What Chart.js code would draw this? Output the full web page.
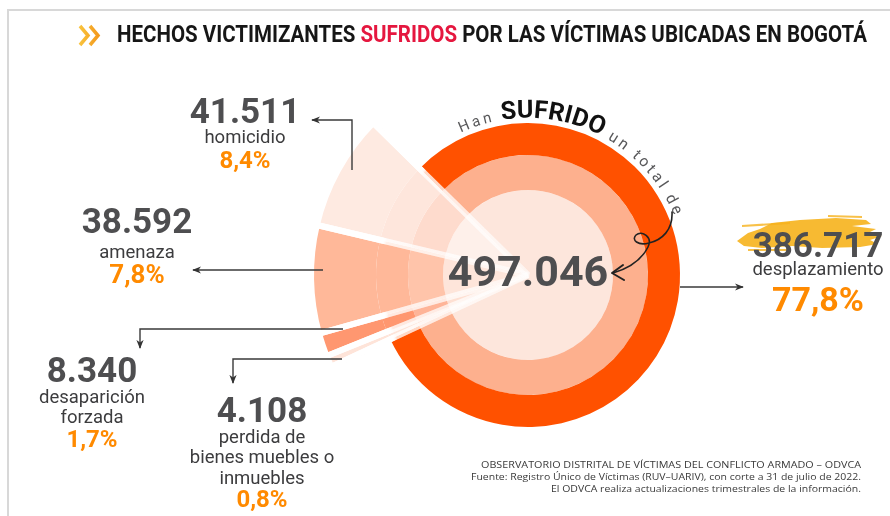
<!DOCTYPE html>
<html lang="es">
<head>
<meta charset="utf-8">
<title>Hechos victimizantes en Bogotá</title>
<script src="https://cdn.jsdelivr.net/npm/chart.js@4.4.0/dist/chart.umd.min.js"></script>
<style>
  html, body { margin: 0; padding: 0; background: #fff; }
  #wrap { position: relative; width: 890px; height: 516px; overflow: hidden; }
  #wrap canvas, #wrap svg { position: absolute; left: 0; top: 0; }
  .frame { position: absolute; left: 7px; top: 9px; right: -10px; bottom: -10px;
           border-left: 2px solid #d8d8d8; border-top: 2px solid #d8d8d8; }
</style>
</head>
<body>
<div id="wrap">
  <div class="frame"></div>
  <canvas id="rings" width="890" height="516"></canvas>
  <canvas id="gaps" width="890" height="516"></canvas>
  <svg id="notes" width="890" height="516" xmlns="http://www.w3.org/2000/svg"></svg>
</div>
<script>
// slices in the order they run clockwise round the circle
const categories = ["desplazamiento", "perdida de\nbienes muebles o\ninmuebles", "desaparición\nforzada", "amenaza", "homicidio"];
const victims = [386717, 4108, 8340, 38592, 41511];
const shares = ["77,8%", "0,8%", "1,7%", "7,8%", "8,4%"];
const totalVictims = 497046;

const titleParts = ["HECHOS VICTIMIZANTES ", "SUFRIDOS", " POR LAS VÍCTIMAS UBICADAS EN BOGOTÁ"];
const sourceLines = [
    "OBSERVATORIO DISTRITAL DE VÍCTIMAS DEL CONFLICTO ARMADO – ODVCA",
    "Fuente: Registro Único de Víctimas (RUV–UARIV), con corte a 31 de julio de 2022.",
    "El ODVCA realiza actualizaciones trimestrales de la información."
];

// ring colours, outermost ring first
const ringColors = [
    ["rgba(0,0,0,0)", "#FEE4D9", "#FF9770", "#FFB899", "#FEEAE1"],
    ["#FF5100", "#FEE4D9", "#FF9770", "#FFB899", "#FEE6DC"],
    ["#FDB08E", "#FEDCCE", "#FEB498", "#FFC4AA", "#FEDBCD"],
    ["#FDE6DC", "#FEEFE9", "#FEE0D3", "#FEE5DA", "#FEF0EA"]
];
const ringWeights = [63, 32, 35, 85];

const commonOptions = {
    responsive: false,
    animation: false,
    events: [],
    rotation: 314.5,
    layout: { padding: { left: 166, top: 34 } },
    plugins: { legend: { display: false }, tooltip: { enabled: false } }
};

new Chart(document.getElementById("rings"), {
    type: "pie",
    data: {
        labels: categories,
        datasets: ringColors.map((colors, i) => ({
            data: victims,
            backgroundColor: colors,
            borderWidth: 0,
            weight: ringWeights[i]
        }))
    },
    options: { ...commonOptions, radius: 215 }
});

// white cuts between the slices, faint towards the middle
function gapColor(c) {
    const area = c.chart.chartArea;
    if (!area) return "#fff";
    const cx = (area.left + area.right) / 2;
    const cy = (area.top + area.bottom) / 2;
    const g = c.chart.ctx.createRadialGradient(cx, cy, 0, cx, cy, 220);
    g.addColorStop(0, "rgba(255,255,255,0.35)");
    g.addColorStop(0.66, "rgba(255,255,255,0.55)");
    g.addColorStop(0.68, "#fff");
    g.addColorStop(1, "#fff");
    return g;
}

new Chart(document.getElementById("gaps"), {
    type: "pie",
    data: {
        labels: categories,
        datasets: [{
            data: victims,
            backgroundColor: "rgba(0,0,0,0)",
            borderColor: gapColor,
            borderWidth: 6
        }]
    },
    options: { ...commonOptions, radius: 217 }
});

// ---- annotations ----
const NS = "http://www.w3.org/2000/svg";
const svg = document.getElementById("notes");

function el(name, attrs, text) {
    const e = document.createElementNS(NS, name);
    for (const k in attrs) e.setAttribute(k, attrs[k]);
    if (text !== undefined) e.textContent = text;
    svg.appendChild(e);
    return e;
}

function formatNumber(n) {
    return String(n).replace(/\B(?=(\d{3})+(?!\d))/g, ".");
}

svg.innerHTML = `
<defs>
  <marker id="ah" viewBox="0 0 10 10" refX="9" refY="5" markerWidth="9" markerHeight="9" markerUnits="userSpaceOnUse" orient="auto">
    <path d="M0,1 L10,5 L0,9 L3,5 Z" fill="#333"/>
  </marker>
  <linearGradient id="chev" x1="0" y1="0" x2="1" y2="0">
    <stop offset="0" stop-color="#F9C23C"/><stop offset="1" stop-color="#F39A1E"/>
  </linearGradient>
</defs>`;

// title
el("path", { d: "M80,26 L88,35.5 L80,45 M90,26 L98,35.5 L90,45", fill: "none", stroke: "url(#chev)", "stroke-width": 3.5 });
const title = el("text", { x: 117, y: 42, "font-family": "Roboto, sans-serif", "font-weight": 700, "font-size": 23,
    textLength: 750, lengthAdjust: "spacingAndGlyphs" });
titleParts.forEach((t, i) => {
    const s = document.createElementNS(NS, "tspan");
    s.setAttribute("fill", i === 1 ? "#E5173F" : "#161616");
    s.textContent = t;
    title.appendChild(s);
});

// yellow brush behind the biggest number
el("path", { d: "M737,241 L748,233 L760,229 L772,223 L800,220 L836,218 L866,220 L871,224 L852,226 L876,229 L868,233 L882,236 L870,240 L878,244 L860,247 L822,248 L792,246 L762,248 L744,246 Z",
    fill: "#F6B21C", opacity: 0.9 });
el("path", { d: "M742,226 L790,223 M828,216 L862,217 M748,250 L790,250", stroke: "#F6B21C", "stroke-width": 2, fill: "none", opacity: 0.8 });

// labels
const labelSpots = [
    { x: 818, num: 257, lines: [275], pct: 311, pctSize: 34 },
    { x: 262, num: 422, lines: [443, 463, 484], pct: 507, pctSize: 24 },
    { x: 92, num: 382, lines: [403, 423], pct: 447, pctSize: 24 },
    { x: 137, num: 233, lines: [258], pct: 283, pctSize: 26 },
    { x: 245, num: 123, lines: [143], pct: 168, pctSize: 24 }
];

categories.forEach((name, i) => {
    const p = labelSpots[i];
    el("text", { x: p.x, y: p.num, "text-anchor": "middle", "font-family": "Roboto, sans-serif", "font-weight": 700,
        "font-size": 35, fill: "#4E4E50" }, formatNumber(victims[i]));
    name.split("\n").forEach((line, j) => {
        el("text", { x: p.x, y: p.lines[j], "text-anchor": "middle", "font-family": "Roboto, sans-serif",
            "font-size": 18.5, fill: "#3C3C3E" }, line);
    });
    el("text", { x: p.x, y: p.pct, "text-anchor": "middle", "font-family": "Roboto, sans-serif", "font-weight": 700,
        "font-size": p.pctSize, fill: "#FF8A00" }, shares[i]);
});

// leader arrows
const leaders = [
    "680,287 743,287",
    "342,359 233,359 233,383",
    "343,329 140,329 140,348",
    "323,270 193,270",
    "352,170 352,120 312,120"
];
leaders.forEach(pts => el("polyline", { points: pts, fill: "none", stroke: "#3a3a3a", "stroke-width": 1.4, "marker-end": "url(#ah)" }));

// centre total
el("text", { x: 528, y: 286, "text-anchor": "middle", "font-family": "Roboto, sans-serif", "font-weight": 700,
    "font-size": 43, fill: "#4E4E50" }, formatNumber(totalVictims));

// curved caption round the ring
el("path", { id: "capArc", d: "M461,132.6 A158,158 0 0 1 686,275", fill: "none" });
const cap = el("text", { "font-family": "Roboto, sans-serif" });
const tp = document.createElementNS(NS, "textPath");
tp.setAttribute("href", "#capArc");
tp.innerHTML = '<tspan font-size="15" letter-spacing="3" fill="#58585a">Han </tspan>' +
    '<tspan font-size="25" font-weight="700" fill="#111">SUFRIDO</tspan>' +
    '<tspan font-size="15.5" letter-spacing="3" fill="#58585a"> un total de</tspan>';
cap.appendChild(tp);

// hand-drawn squiggle pointing at the total
el("path", { d: "M672,212 C673,230 662,240 649,243 C638,246 631,240 636,235 C642,230 653,237 648,247 C642,259 630,268 613,273",
    fill: "none", stroke: "#222", "stroke-width": 1.6, "stroke-linecap": "round" });
el("path", { d: "M623,265 L612,273 L624,280", fill: "none", stroke: "#222", "stroke-width": 2, "stroke-linecap": "round", "stroke-linejoin": "round" });

// source note
const noteWidths = [380, 390, 310];
sourceLines.forEach((line, i) => {
    el("text", { x: 861, y: 468 + i * 12, "text-anchor": "end", "font-family": "'Open Sans', sans-serif",
        "font-size": 9.5, fill: "#3a3a3a", textLength: noteWidths[i], lengthAdjust: "spacingAndGlyphs" }, line);
});
</script>
</body>
</html>
